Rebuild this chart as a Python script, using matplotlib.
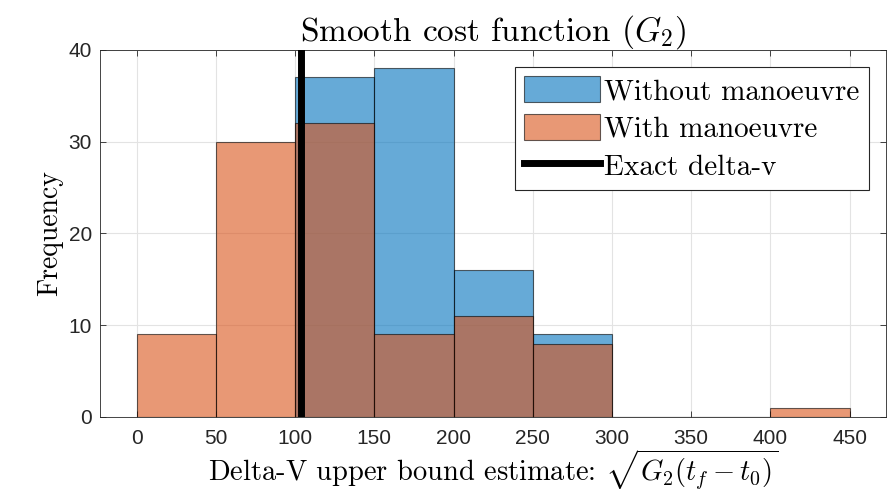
import numpy as np
import matplotlib
matplotlib.use("Agg")
import matplotlib.pyplot as plt

# bin edges and counts of each histogram
bin_edges = [0, 50, 100, 150, 200, 250, 300, 350, 400, 450]
without_counts = [0, 0, 37, 38, 16, 9, 0, 0, 0]
with_counts = [9, 30, 32, 9, 11, 8, 0, 0, 1]
exact_dv = 103.5

plt.rcParams["mathtext.fontset"] = "cm"
plt.rcParams["axes.unicode_minus"] = False
serif = "cmr10"
tick_font = ["Liberation Sans", "DejaVu Sans"]

blue = (0.0, 0.447, 0.741)
orange = (0.85, 0.325, 0.098)

fig = plt.figure(figsize=(8.95, 4.94), dpi=100)
ax = fig.add_axes([0.112, 0.156, 0.878, 0.743])

edges = np.array(bin_edges)
ax.hist(edges[:-1], bins=edges, weights=without_counts, color=blue, alpha=0.6,
        edgecolor="black", linewidth=0.8, label="Without manoeuvre", zorder=2)
ax.hist(edges[:-1], bins=edges, weights=with_counts, color=orange, alpha=0.6,
        edgecolor="black", linewidth=0.8, label="With manoeuvre", zorder=3)
ax.axvline(exact_dv, color="black", linewidth=5, label="Exact delta-v", zorder=4)

ax.set_xlim(-23, 473)
ax.set_ylim(0, 40)
ax.set_xticks(bin_edges)
ax.set_yticks([0, 10, 20, 30, 40])
ax.grid(True, color="#e3e3e3", linewidth=0.8, zorder=0)
ax.set_axisbelow(True)
for s in ax.spines.values():
    s.set_color("#262626")
    s.set_linewidth(0.6)
ax.tick_params(direction="in", length=4, width=0.6, colors="#262626",
               top=True, right=True, labelsize=15)
ax.tick_params(axis="x", pad=9)
ax.tick_params(axis="y", pad=6)
for lbl in ax.get_xticklabels() + ax.get_yticklabels():
    lbl.set_family(tick_font)

ax.set_title(r"Smooth cost function $(G_2)$", family=serif, fontsize=24, pad=7)
ax.set_xlabel(r"Delta-V upper bound estimate: $\sqrt{G_2(t_f - t_0)}$",
              family=serif, fontsize=20.5, labelpad=-1)
ax.set_ylabel("Frequency", family=serif, fontsize=20, labelpad=4)

leg = ax.legend(loc="upper right", prop={"family": serif, "size": 21},
                fancybox=False, edgecolor="#262626", framealpha=1,
                handlelength=2.6, handleheight=1.0, handletextpad=0.15,
                borderpad=0.3, labelspacing=0.3, borderaxespad=0.6)
leg.get_frame().set_linewidth(0.8)

fig.savefig("out.png", dpi=100)
